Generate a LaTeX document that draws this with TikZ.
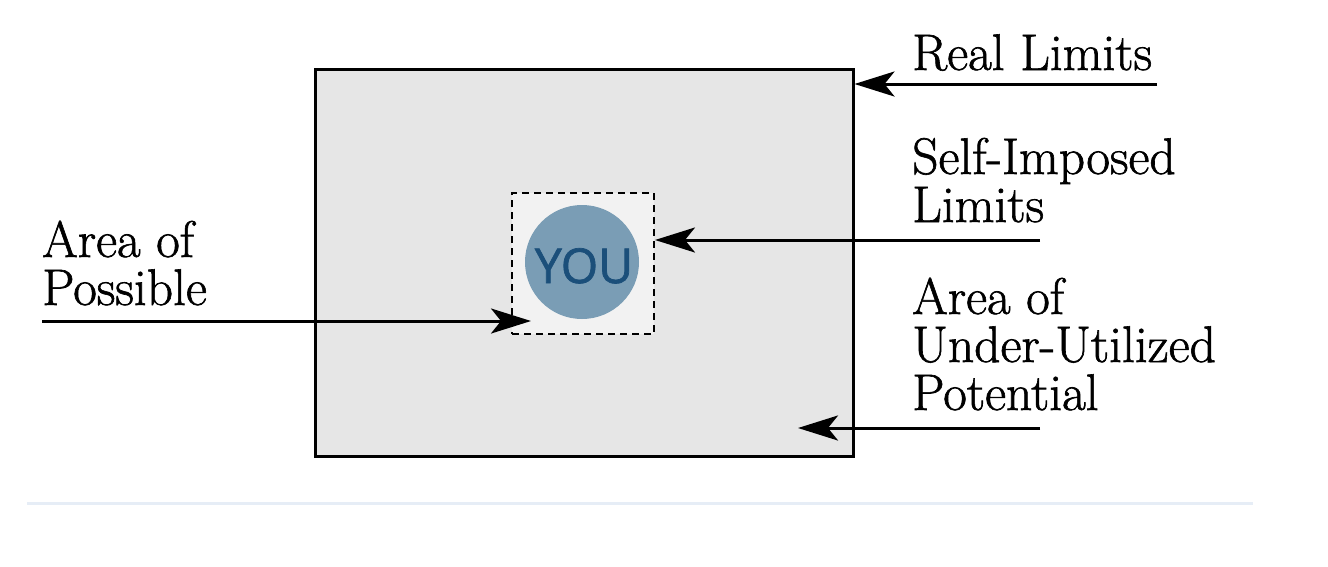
\documentclass[tikz,border=0pt]{standalone}
\usepackage{fontspec}
\newfontfamily\youfont{Open Sans}[FakeBold=1.5]
\newfontfamily\lblfont{Latin Modern Roman}[FakeBold=1.2]
\usetikzlibrary{arrows.meta}
\definecolor{outerfill}{HTML}{E6E6E6}
\definecolor{innerfill}{HTML}{F2F2F2}
\definecolor{youfill}{HTML}{7A9DB5}
\definecolor{youtext}{HTML}{1B4F7A}
\definecolor{rulecol}{HTML}{E6EDF6}
\tikzset{
  outerbox/.style={draw=black, line width=3pt, fill=outerfill},
  innerbox/.style={draw=black, line width=2pt, dash pattern=on 7pt off 5pt, fill=innerfill},
  youcircle/.style={circle, fill=youfill, minimum size=114pt, inner sep=0pt},
  youtxt/.style={inner sep=0pt, text=youtext, font=\youfont\fontsize{48}{48}\selectfont},
  lbl/.style={inner sep=0pt, align=left, font=\lblfont\fontsize{51.5}{48}\selectfont, anchor=base west},
  arr/.style={line width=3pt, -{Stealth[length=40pt, width=25pt, inset=10pt]}}
}
\begin{document}
\begin{tikzpicture}[x=1pt, y=-1pt]
\useasboundingbox (0,0) rectangle (1328,566);
\fill[white] (0,0) rectangle (1328,566);
% boxes
\node[outerbox, minimum width=538pt, minimum height=387pt, inner sep=0pt] (outer) at (584,262.5) {};
\node[innerbox, minimum width=142pt, minimum height=141pt, inner sep=0pt] (inner) at (583,263.5) {};
\node[youcircle] (you) at (582,262) {};
\node[youtxt, anchor=base] (youlbl) at (584,283) {YOU};
% labels (anchored at the baseline of their last line)
\node[lbl] (real) at (912,70) {Real Limits};
\node[lbl] (self) at (912,222) {Self-Imposed\\Limits};
\node[lbl] (under) at (912,410) {Area of\\Under-Utilized\\Potential};
\node[lbl] (poss) at (42,305) {Area of\\Possible};
% arrow endpoints
\coordinate (realS) at (1157,84);
\coordinate (selfS) at (1040,240);
\coordinate (underS) at (1040,428);
\coordinate (underE) at (798,428);
\coordinate (possS) at (42,321);
\coordinate (possE) at (531,321);
\draw[arr] (realS) -- (realS -| outer.east);
\draw[arr] (selfS) -- (selfS -| inner.east);
\draw[arr] (underS) -- (underE);
\draw[arr] (possS) -- (possE);
% bottom rule
\coordinate (ruleL) at (27,503);
\coordinate (ruleR) at (1253,503);
\draw[rulecol, line width=3pt] (ruleL) -- (ruleR);
\end{tikzpicture}
\end{document}
